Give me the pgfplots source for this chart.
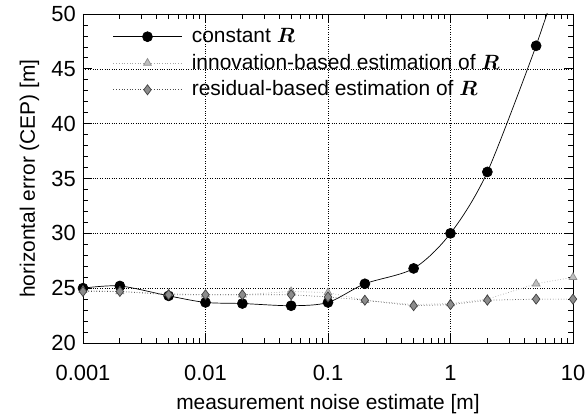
\documentclass[border=0pt]{standalone}
\usepackage{amsmath}
\usepackage{bm}
\usepackage{fontspec}
\setmainfont{Liberation Sans}
\usepackage{pgfplots}
\pgfplotsset{compat=1.18}
\begin{document}
\fontsize{21}{25}\selectfont
\begin{tikzpicture}
\useasboundingbox (-83bp,-76bp) rectangle (505bp,343bp);
\begin{axis}[
  scale only axis,
  width=490bp, height=329bp,
  xmode=log,
  xmin=0.001, xmax=10,
  ymin=20, ymax=50,
  ytick={20,25,30,35,40,45,50},
  minor y tick num=4,
  xtick={0.001,0.01,0.1,1,10},
  xticklabels={0.001,0.01,0.1,1,10},
  /pgf/number format/assume math mode=true,
  tick align=inside,
  major tick length=9bp,
  minor tick length=5bp,
  tick style={black, line width=0.8pt},
  axis line style={black, line width=0.9pt},
  grid=major,
  major grid style={black, dotted, line width=0.6pt},
  xlabel={measurement noise estimate [m]},
  ylabel={horizontal error (CEP) [m]},
  xticklabel style={yshift=-15bp},
  yticklabel style={xshift=0bp},
  xlabel style={yshift=0bp},
  ylabel style={yshift=-2bp},
  tick label style={font=\fontsize{22}{26}\selectfont},
  label style={font=\fontsize{21}{25}\selectfont},
  legend style={at={(0.055,0.97)}, anchor=north west, draw=none, fill=none,
    font=\fontsize{21}{25}\selectfont, row sep=4.5bp},
  legend cell align=left,
  legend image code/.code={\draw[mark repeat=2,mark phase=2,#1] plot coordinates {(0cm,0cm) (1.2cm,0cm) (2.4cm,0cm)};},
]
\addplot[black, line width=0.7pt, smooth, mark=*, mark size=5pt, mark options={solid, fill=black}]
coordinates {
(0.001,25.0) (0.002,25.2) (0.005,24.3) (0.01,23.7) (0.02,23.6) (0.05,23.4)
(0.1,23.7) (0.2,25.4) (0.5,26.8) (1,30.0) (2,35.6) (5,47.1)
};
\addlegendentry{\hspace{8bp}constant $\bm{R}$}
\addplot[black!35, line width=0.7pt, dotted, mark=triangle*, mark size=4.5pt, mark options={solid, fill=black!25, draw=black!45}]
coordinates {
(0.001,24.8) (0.002,24.7) (0.005,24.5) (0.01,24.4) (0.02,24.4) (0.05,24.7)
(0.1,24.6) (0.2,23.9) (0.5,23.5) (1,23.6) (2,24.0) (5,25.4) (10,26.0)
};
\addlegendentry{\hspace{8bp}innovation-based estimation of $\bm{R}$}
\addplot[black!70, line width=0.7pt, dotted, mark=diamond*, mark size=5pt, mark options={solid, fill=black!45, draw=black!75}]
coordinates {
(0.001,24.7) (0.002,24.7) (0.005,24.4) (0.01,24.4) (0.02,24.4) (0.05,24.4)
(0.1,24.2) (0.2,23.9) (0.5,23.4) (1,23.5) (2,23.9) (5,24.0) (10,24.0)
};
\addlegendentry{\hspace{8bp}residual-based estimation of $\bm{R}$}
\addplot[black, line width=0.7pt, no marks, forget plot]
coordinates {(5,47.1) (10,57.0)};
\end{axis}
\end{tikzpicture}
\end{document}
